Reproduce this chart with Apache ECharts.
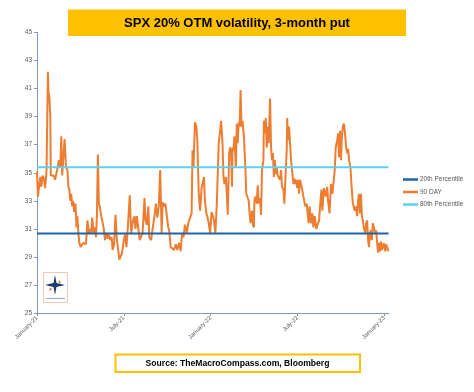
<!DOCTYPE html>
<html>
<head>
<meta charset="utf-8">
<script src="https://cdn.jsdelivr.net/npm/echarts@6/dist/echarts.min.js"></script>
<style>
html,body{margin:0;padding:0;background:#fff;}
#c{width:474px;height:392px;}
</style>
</head>
<body>
<div id="c"></div>
<script>
// Days since 2021-01-01 and the 90-day 3-month 20% OTM put volatility
const days = [0,2,5,7,9,12,15,17,20,22,23,24,26,28,29,32,35,38,41,43,46,49,51,53,55,58,61,64,66,68,70,72,74,76,78,81,83,85,87,89,92,95,97,100,103,106,109,111,114,116,119,122,124,126,128,130,132,135,137,140,143,146,149,151,154,157,159,162,165,168,170,173,176,179,182,185,
188,191,195,198,202,205,207,210,213,216,219,222,226,228,231,234,236,240,243,247,250,253,256,259,262,264,267,270,273,276,278,281,285,288,292,295,299,302,305,308,311,315,318,322,325,327,329,332,335,337,340,343,346,349,351,353,356,358,361,364,367,370,372,375,
378,382,385,387,390,392,394,397,399,401,404,406,408,410,411,413,415,418,420,422,424,426,428,430,432,435,438,440,442,445,447,449,452,454,456,457,459,462,464,466,469,471,473,476,477,479,481,483,485,487,490,492,494,496,498,500,502,504,506,508,511,513,515,518,520,523,525,526,528,530,532,534,537,539,541,543,545,547,549,551,
553,557,560,564,567,571,573,576,579,581,584,587,590,593,596,598,600,603,605,607,610,612,615,618,621,624,626,628,631,633,635,637,639,641,643,645,647,650,652,654,656,659,661,664,666,668,670,673,675,677,679,681,683,685,687,690,692,694,696,698,700,702,704,706,708,711,713,715,717,719,721,723,725,727,729,732,734,736,738,739];
const vol90 = [35.1,33.3,34.2,34.7,34.0,34.8,34.5,33.9,35.1,35.2,42.2,40.8,40.4,39.0,34.8,34.7,34.8,34.5,34.4,35.3,35.9,35.4,37.6,34.8,35.9,37.4,35.4,35.2,34.0,33.8,33.0,33.5,32.6,33.0,32.2,32.8,31.1,31.9,30.7,30.0,29.7,29.6,30.0,30.1,29.9,31.6,30.7,31.0,30.7,31.8,30.7,31.1,30.4,32.0,36.3,32.8,32.6,31.9,31.6,31.1,30.2,30.7,30.3,30.6,30.2,30.4,29.5,29.9,32.0,30.2,29.7,28.8,28.9,29.3,30.1,30.6,
29.7,31.1,33.4,30.7,31.6,31.9,31.0,31.9,31.0,30.2,30.1,30.7,33.2,31.6,31.3,32.6,30.4,30.2,31.0,31.9,32.8,31.8,32.6,35.2,30.7,32.9,32.6,32.8,31.9,31.1,30.9,29.7,29.6,29.5,29.9,29.5,30.0,29.4,30.7,30.4,31.3,30.7,31.4,31.3,32.1,36.6,35.4,38.6,38.3,37.3,33.5,32.3,33.9,34.0,34.7,33.0,32.1,31.9,31.4,30.7,32.2,31.9,31.6,30.7,
32.8,37.1,38.0,38.7,37.1,34.7,34.2,34.7,33.5,32.0,36.4,36.8,36.4,34.0,36.8,36.6,37.6,35.4,38.5,37.1,38.6,38.3,40.9,38.3,38.7,37.6,35.4,33.5,33.4,33.0,32.1,31.4,32.3,31.3,31.1,33.0,33.3,32.8,34.1,32.8,33.2,32.0,35.2,35.9,38.7,37.8,38.9,36.8,38.3,37.1,40.3,36.8,35.9,36.4,34.7,35.9,34.9,35.4,34.8,34.8,34.5,35.2,34.0,33.8,32.8,35.2,36.6,38.9,37.3,38.3,37.1,35.9,34.9,34.2,34.6,34.2,34.5,33.9,34.5,33.5,
34.5,33.9,33.3,32.6,32.8,31.4,32.6,31.4,32.1,31.1,31.9,31.0,30.9,31.6,33.0,33.8,32.3,33.9,33.8,33.3,34.0,33.0,32.1,34.2,33.5,34.5,35.2,36.8,37.3,37.8,36.1,38.0,35.9,37.6,38.3,38.5,38.0,36.8,36.4,36.7,35.9,35.4,34.2,32.8,32.8,32.3,32.6,31.9,33.0,33.5,32.1,33.5,31.9,31.6,31.1,30.7,31.4,31.6,30.2,29.7,30.7,30.9,30.2,31.4,31.5,30.7,30.9,30.0,29.3,30.0,29.4,30.1,29.5,29.7,30.0,29.4,29.9,29.7,29.5,29.4];
const pct20 = 30.67;
const pct80 = 35.4;
const xTickLabels = ['January-21','July-21','January-22','July-22','January-23'];
const seriesNames = ['20th Percentile','90 DAY','80th Percentile'];
const titleText = 'SPX 20% OTM volatility, 3-month put';
const sourceText = 'Source: TheMacroCompass.com, Bloomberg';

const lastDay = days[days.length - 1];
const chart = echarts.init(document.getElementById('c'), null, {renderer: 'canvas'});
const gray = '#595959';
const option = {
  animation: false,
  backgroundColor: '#ffffff',
  textStyle: {fontFamily: 'Liberation Sans, Arial, sans-serif'},
  grid: {left: 37, right: 85, top: 32.5, bottom: 79, containLabel: false},
  xAxis: {
    type: 'value', min: 0, max: 740, interval: 182.5,
    axisLine: {show: true, lineStyle: {color: '#8497b0', width: 1}},
    axisTick: {show: true, length: 3, lineStyle: {color: '#8497b0'}},
    splitLine: {show: false},
    axisLabel: {
      rotate: 45, fontSize: 6, color: gray, margin: 4, showMaxLabel: false,
      formatter: function (v) {
        const i = Math.round(v / 182.5);
        if (Math.abs(v - i * 182.5) < 0.5 && i < xTickLabels.length) return xTickLabels[i];
        return '';
      }
    }
  },
  yAxis: {
    type: 'value', min: 25, max: 45, interval: 2,
    axisLine: {show: true, lineStyle: {color: '#8497b0', width: 1}},
    axisTick: {show: true, length: 3, lineStyle: {color: '#8497b0'}},
    splitLine: {show: false},
    axisLabel: {fontSize: 6.5, color: gray, margin: 5}
  },
  legend: {
    orient: 'vertical', left: 398, top: 171, itemWidth: 15, itemHeight: 2.5, itemGap: 5.5,
    icon: 'rect', data: seriesNames,
    textStyle: {fontSize: 6.5, color: gray, padding: [0, 0, 0, -3]}
  },
  series: [
    {
      name: seriesNames[1], type: 'line', showSymbol: false, symbol: 'none',
      data: days.map((d, i) => [d, vol90[i]]),
      lineStyle: {color: '#ED7D31', width: 2}, itemStyle: {color: '#ED7D31'}, z: 2
    },
    {
      name: seriesNames[0], type: 'line', symbol: 'none',
      data: [[0, pct20], [lastDay, pct20]],
      lineStyle: {color: '#1F64A8', width: 2}, itemStyle: {color: '#1F64A8'}, z: 3
    },
    {
      name: seriesNames[2], type: 'line', symbol: 'none',
      data: [[0, pct80], [lastDay, pct80]],
      lineStyle: {color: '#5CD0F0', width: 2}, itemStyle: {color: '#5CD0F0'}, z: 3
    }
  ],
  graphic: [
    {type: 'rect', shape: {x: 68, y: 9.5, width: 338, height: 26.5}, style: {fill: '#FFC000'}, z: 10},
    {type: 'text', x: 237, y: 23, style: {text: titleText, fill: '#000', font: 'bold 13px "Liberation Sans", Arial, sans-serif', align: 'center', verticalAlign: 'middle'}, z: 11},
    {type: 'rect', shape: {x: 115.5, y: 354.5, width: 244.5, height: 17.5}, style: {fill: '#fff', stroke: '#FFC000', lineWidth: 2}, z: 10},
    {type: 'text', x: 237.5, y: 363.5, style: {text: sourceText, fill: '#000', font: 'bold 8.6px "Liberation Sans", Arial, sans-serif', align: 'center', verticalAlign: 'middle'}, z: 11},
    // small compass logo
    {type: 'rect', shape: {x: 43.5, y: 272.5, width: 24, height: 30}, style: {fill: '#fff', stroke: '#f4b9a0', lineWidth: 0.8}, z: 10},
    {type: 'polygon', shape: {points: [[55,275],[56.5,283],[65,285],[56.5,287],[55,295],[53.5,287],[45,285],[53.5,283]]}, style: {fill: '#1F3C6E'}, z: 11},
    {type: 'polygon', shape: {points: [[59,280],[61,283],[58.5,283.5]]}, style: {fill: '#E46C2E'}, z: 11},
    {type: 'polygon', shape: {points: [[50,288],[52.5,289],[49,291]]}, style: {fill: '#E46C2E'}, z: 11},
    {type: 'rect', shape: {x: 46, y: 298, width: 19, height: 1}, style: {fill: '#9aa8c0'}, z: 11}
  ]
};
chart.setOption(option);
</script>
</body>
</html>
